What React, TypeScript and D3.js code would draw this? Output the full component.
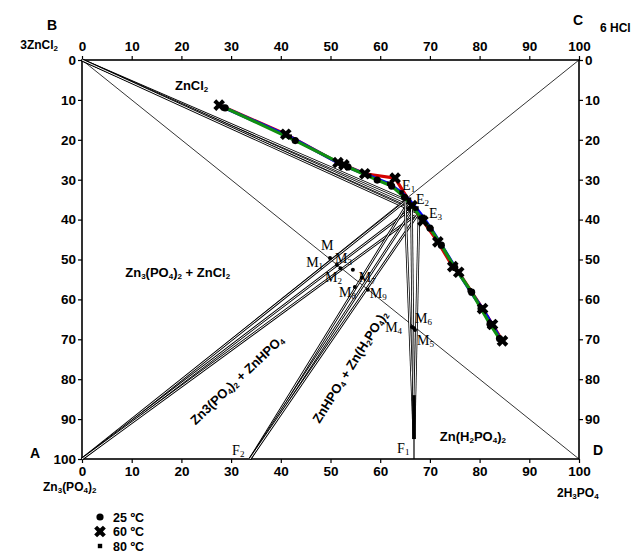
import React, { useEffect, useRef } from 'react';
import * as d3 from 'd3';

const W = 638;
const H = 553;
const margin = { top: 60, right: 59, bottom: 94, left: 82 };

// tick labels
const axisTicks = [0, 10, 20, 30, 40, 50, 60, 70, 80, 90, 100];
const rightTicks = [0, 10, 20, 30, 40, 50, 60, 70, 80, 90];

// legend
const temps = ['25 ºC', '60 ºC', '80 ºC'];

// solubility isotherms, [x %, y %]
const curve25: [number, number][] = [
  [28.8, 12.0], [42.9, 20.2], [53.5, 26.8], [59.4, 30.1], [62.3, 31.6], [64.9, 34.4],
  [70.0, 42.1], [72.3, 46.4], [75.0, 52.0], [78.4, 58.2], [80.3, 62.3], [82.1, 66.2], [84.0, 69.8]
];
const curve60: [number, number][] = [
  [27.6, 11.3], [41.0, 18.6], [51.5, 25.7], [52.7, 26.3], [56.9, 28.5], [63.0, 29.6],
  [66.4, 36.5], [68.6, 40.3], [71.6, 45.6], [74.6, 51.8], [75.8, 53.2], [80.6, 62.3],
  [82.6, 66.3], [84.6, 70.4]
];
const curve80: [number, number][] = [
  [28.2, 11.7], [41.8, 19.2], [52.2, 26.2], [57.8, 29.0], [61.8, 31.0], [64.3, 33.2],
  [65.8, 35.0], [67.3, 37.2], [68.6, 39.3], [70.3, 42.4], [72.3, 46.3], [75.2, 52.2],
  [78.0, 57.7], [80.5, 62.2], [82.4, 66.0], [84.2, 70.0]
];

// solid phases (corners / feet of tie lines)
const pointA: [number, number] = [0, 100];
const pointB: [number, number] = [0, 0];
const pointF1: [number, number] = [66.8, 100];
const pointF2: [number, number] = [33.8, 100];

// tie line ends
const tieB: [number, number][] = [[65.0, 35.0], [66.3, 36.8], [67.5, 38.3]];
const tieA: [number, number][] = [[65.2, 35.3], [66.0, 37.5], [67.0, 39.0]];
const tieF2: [number, number][] = [[65.5, 36.0], [66.5, 37.5], [67.5, 38.8]];
const tieF1: [number, number][] = [[65.0, 35.5], [66.3, 37.0], [67.8, 38.5]];

// mixture points
const mixNames = ['M', 'M_1', 'M_3', 'M_2', 'M_7', 'M_8', 'M_9', 'M_4', 'M_6', 'M_5'];
const mixPoints: [number, number][] = [
  [49.9, 49.6], [51.3, 51.4], [52.0, 52.2], [54.5, 52.6], [56.3, 54.6],
  [54.9, 56.9], [57.5, 57.6], [66.4, 66.9], [66.8, 67.2], [67.0, 67.7]
];
const mixLabelPos: [number, number][] = [
  [48.1, 47.6], [45.1, 51.9], [50.9, 50.9], [48.9, 55.6], [55.7, 55.6],
  [51.7, 59.4], [57.9, 59.6], [61.0, 68.2], [67.0, 65.9], [67.4, 71.4]
];

const SANS = '"Liberation Sans", Arial, sans-serif';
const SERIF = '"Liberation Serif", "Times New Roman", serif';

// text with "_n" subscripts
function chemText(g: any, str: string, size: number, family: string, weight: string) {
  const t = g.append('text')
    .style('font-family', family)
    .style('font-size', size + 'px')
    .style('font-weight', weight)
    .attr('fill', '#000');
  const parts = str.split(/(_\d)/).filter(p => p.length);
  let low = false;
  parts.forEach(p => {
    if (p.startsWith('_')) {
      t.append('tspan').attr('font-size', Math.round(size * 0.65)).attr('dy', low ? 0 : 2).text(p.slice(1));
      low = true;
    } else {
      t.append('tspan').attr('dy', low ? -2 : 0).text(p);
      low = false;
    }
  });
  return t;
}

const App = () => {
  const ref = useRef<SVGSVGElement>(null);

  useEffect(() => {
    const svg = d3.select(ref.current);
    svg.selectAll('*').remove();

    const x = d3.scaleLinear().domain([0, 100]).range([margin.left, W - margin.right]);
    const y = d3.scaleLinear().domain([0, 100]).range([margin.top, H - margin.bottom]);

    const g = svg.append('g');

    const styleAxis = (a: any) => {
      a.selectAll('text')
        .style('font-family', SANS)
        .style('font-size', '13.5px')
        .style('font-weight', 'bold')
        .attr('fill', '#000');
      a.selectAll('line').attr('stroke', '#000').attr('stroke-width', 1.2);
      a.select('.domain').remove();
    };

    g.append('g').attr('transform', `translate(0,${y(0)})`)
      .call(d3.axisTop(x).tickValues(axisTicks).tickSize(4).tickPadding(5)).call(styleAxis);
    g.append('g').attr('transform', `translate(0,${y(100)})`)
      .call(d3.axisBottom(x).tickValues(axisTicks).tickSize(4).tickPadding(3)).call(styleAxis);
    g.append('g').attr('transform', `translate(${x(0)},0)`)
      .call(d3.axisLeft(y).tickValues(axisTicks).tickSize(4).tickPadding(2)).call(styleAxis);
    g.append('g').attr('transform', `translate(${x(100)},0)`)
      .call(d3.axisRight(y).tickValues(rightTicks).tickSize(4).tickPadding(2)).call(styleAxis);

    // frame
    g.append('rect')
      .attr('x', x(0)).attr('y', y(0))
      .attr('width', x(100) - x(0)).attr('height', y(100) - y(0))
      .attr('fill', 'none').attr('stroke', '#000').attr('stroke-width', 1.6);

    // diagonals
    const thin = (p: [number, number], q: [number, number], w = 0.8) =>
      g.append('line')
        .attr('x1', x(p[0])).attr('y1', y(p[1])).attr('x2', x(q[0])).attr('y2', y(q[1]))
        .attr('stroke', '#000').attr('stroke-width', w);
    thin(pointB, [100, 100]);
    thin(pointA, [100, 0]);

    // tie lines, drawn as outlined double lines
    const dbl = (p: [number, number], q: [number, number]) => {
      [[2.6, '#000'], [1.0, '#fff']].forEach(([w, c]) => {
        g.append('line')
          .attr('x1', x(p[0])).attr('y1', y(p[1])).attr('x2', x(q[0])).attr('y2', y(q[1]))
          .attr('stroke', c as string).attr('stroke-width', w as number);
      });
    };
    tieB.forEach(e => dbl(pointB, e));
    tieA.forEach(e => dbl(pointA, e));
    tieF2.forEach(e => dbl(pointF2, e));
    tieF1.forEach(e => dbl([pointF1[0], 95], e));
    thin([pointF1[0], 84], [pointF1[0], 95], 3.5);
    thin([pointF1[0], 95], pointF1, 1.2);

    // isotherms
    const line = d3.line<[number, number]>().x(d => x(d[0])).y(d => y(d[1]));
    const curves = [curve60, curve80, curve25];
    const colors = ['#d40000', '#0000ff', '#119011'];
    curves.forEach((c, i) => {
      g.append('path').attr('d', line(c)!)
        .attr('fill', 'none').attr('stroke', colors[i]).attr('stroke-width', 3.2)
        .attr('stroke-linejoin', 'round');
    });

    const cross = d3.symbol().type(d3.symbolCross).size(85)();
    const drawMarker = (kind: number, px: number, py: number) => {
      if (kind === 0) {
        g.append('circle').attr('cx', px).attr('cy', py).attr('r', 3.6).attr('fill', '#000');
      } else if (kind === 1) {
        g.append('path').attr('d', cross!).attr('transform', `translate(${px},${py}) rotate(45)`).attr('fill', '#000');
      } else {
        g.append('rect').attr('x', px - 2.2).attr('y', py - 2.2).attr('width', 4.4).attr('height', 4.4).attr('fill', '#000');
      }
    };
    curve80.forEach(d => drawMarker(2, x(d[0]), y(d[1])));
    curve25.forEach(d => drawMarker(0, x(d[0]), y(d[1])));
    curve60.forEach(d => drawMarker(1, x(d[0]), y(d[1])));

    // mixture points
    mixPoints.forEach((d, i) => {
      g.append('circle').attr('cx', x(d[0])).attr('cy', y(d[1])).attr('r', 2).attr('fill', '#000');
      const lp = mixLabelPos[i];
      chemText(g, mixNames[i], 14, SERIF, 'normal').attr('x', x(lp[0])).attr('y', y(lp[1]));
    });

    // invariant / solid labels (serif)
    chemText(g, 'E_1', 14, SERIF, 'normal').attr('x', x(64.4)).attr('y', y(32.6));
    chemText(g, 'E_2', 14, SERIF, 'normal').attr('x', x(67.2)).attr('y', y(36.2));
    chemText(g, 'E_3', 14, SERIF, 'normal').attr('x', x(69.8)).attr('y', y(39.6));
    chemText(g, 'F_2', 14, SERIF, 'normal').attr('x', x(30.2)).attr('y', y(99.0));
    chemText(g, 'F_1', 14, SERIF, 'normal').attr('x', x(63.4)).attr('y', y(98.5));

    // field labels
    chemText(g, 'ZnCl_2', 13, SANS, 'bold').attr('x', x(18.7)).attr('y', y(7.5));
    chemText(g, 'Zn_3(PO_4)_2 + ZnCl_2', 13, SANS, 'bold').attr('x', x(8.7)).attr('y', y(54.4));
    chemText(g, 'Zn(H_2PO_4)_2', 13, SANS, 'bold').attr('x', x(72.0)).attr('y', y(95.5));
    chemText(g, 'Zn3(PO_4)_2 + ZnHPO_4', 13, SANS, 'bold')
      .attr('text-anchor', 'middle')
      .attr('transform', `translate(${x(31.8)},${y(81.0)}) rotate(-43.5)`);
    chemText(g, 'ZnHPO_4 + Zn(H_2PO_4)_2', 13, SANS, 'bold')
      .attr('text-anchor', 'middle')
      .attr('transform', `translate(${x(54.7)},${y(77.5)}) rotate(-58)`);

    // corner labels
    chemText(g, 'B', 14, SANS, 'bold').attr('x', 47).attr('y', 30);
    chemText(g, '3ZnCl_2', 12, SANS, 'bold').attr('x', 58).attr('y', 49).attr('text-anchor', 'end');
    chemText(g, 'C', 14, SANS, 'bold').attr('x', 573).attr('y', 25);
    chemText(g, '6 HCl', 12, SANS, 'bold').attr('x', 600).attr('y', 32);
    chemText(g, 'A', 14, SANS, 'bold').attr('x', 30).attr('y', 458);
    chemText(g, 'Zn_3(PO_4)_2', 12, SANS, 'bold').attr('x', 43).attr('y', 491);
    chemText(g, 'D', 14, SANS, 'bold').attr('x', 593).attr('y', 455);
    chemText(g, '2H_3PO_4', 12, SANS, 'bold').attr('x', 557).attr('y', 497);

    // legend
    temps.forEach((t, i) => {
      const ly = 517 + i * 14.5;
      drawMarker(i, 100, ly);
      g.append('text').attr('x', 113).attr('y', ly + 4.5)
        .style('font-family', SANS).style('font-size', '12.5px').style('font-weight', 'bold')
        .text(t);
    });
  }, []);

  return (
    <svg ref={ref} width={W} height={H}
      style={{ position: 'absolute', left: 0, top: 0, background: '#fff' }} />
  );
};

export default App;
